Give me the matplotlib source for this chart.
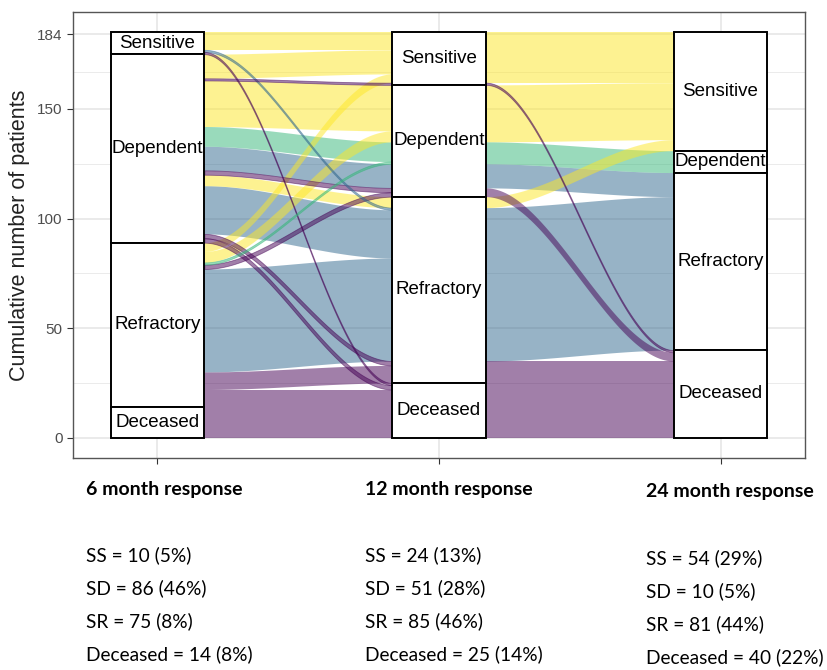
import numpy as np
import matplotlib.pyplot as plt
from matplotlib.patches import Rectangle

codes = ["S", "D", "R", "X"]
names = {"S": "Sensitive", "D": "Dependent", "R": "Refractory", "X": "Deceased"}
fills = {"S": "#FDE725", "D": "#35B779", "R": "#31688E", "X": "#440154"}

# one entry per patient path (6 -> 12 -> 24 months), with patient counts
resp_6m = ["S", "S", "S", "D", "D", "D", "D", "D", "D", "D", "D", "D", "D",
           "R", "R", "R", "R", "R", "R", "R", "X"]
resp_12m = ["S", "R", "X", "S", "S", "D", "D", "D", "D", "R", "R", "R", "X",
            "S", "D", "D", "D", "R", "R", "X", "X"]
resp_24m = ["S", "R", "X", "S", "X", "S", "D", "R", "X", "S", "R", "X", "X",
            "S", "S", "D", "X", "R", "X", "X", "X"]
patients = [8, 1, 1, 11, 1, 21, 9, 11, 2, 5, 22, 2, 2,
            4, 5, 1, 2, 47, 8, 8, 14]

y_ticks = [0, 50, 100, 150, 184]
headers = ["6 month response", "12 month response", "24 month response"]
summary = [
    ["SS = 10 (5%)", "SD = 86 (46%)", "SR = 75 (8%)", "Deceased = 14 (8%)"],
    ["SS = 24 (13%)", "SD = 51 (28%)", "SR = 85 (46%)", "Deceased = 25 (14%)"],
    ["SS = 54 (29%)", "SD = 10 (5%)", "SR = 81 (44%)", "Deceased = 40 (22%)"],
]

W, H = 827, 670
fig = plt.figure(figsize=(W / 100, H / 100), dpi=100)
ax = fig.add_axes([73 / W, 1 - 458 / H, (805 - 73) / W, (458 - 12) / H])

rank = {c: i for i, c in enumerate(codes)}
cols = [resp_6m, resp_12m, resp_24m]
total = sum(patients)
width = 1 / 3

# stratum extents, first level on top
strata = []
for col in cols:
    counts = {c: 0 for c in codes}
    for c, n in zip(col, patients):
        counts[c] += n
    top = total
    ext = {}
    for c in codes:
        ext[c] = (top - counts[c], top)
        top -= counts[c]
    strata.append(ext)


def smooth(t):
    return t * t * (3 - 2 * t)


for k in range(2):
    agg = {}
    for a, b, f, n in zip(cols[k], cols[k + 1], resp_24m, patients):
        agg[(a, b, f)] = agg.get((a, b, f), 0) + n

    left = {}
    cur = {c: strata[k][c][1] for c in codes}
    for key in sorted(agg, key=lambda t: (rank[t[0]], rank[t[1]], rank[t[2]])):
        n = agg[key]
        left[key] = (cur[key[0]] - n, cur[key[0]])
        cur[key[0]] -= n

    right = {}
    cur = {c: strata[k + 1][c][1] for c in codes}
    for key in sorted(agg, key=lambda t: (rank[t[1]], rank[t[2]], rank[t[0]])):
        n = agg[key]
        right[key] = (cur[key[1]] - n, cur[key[1]])
        cur[key[1]] -= n

    x0 = k + 1 + width / 2
    x1 = k + 2 - width / 2
    xs = np.linspace(x0, x1, 120)
    s = smooth((xs - x0) / (x1 - x0))
    for key in sorted(agg, key=lambda t: -agg[t]):
        a0, a1 = left[key]
        b0, b1 = right[key]
        lo = a0 + (b0 - a0) * s
        hi = a1 + (b1 - a1) * s
        thin = agg[key] <= 2
        ax.fill_between(xs, lo, hi, color=fills[key[2]], alpha=0.5,
                        linewidth=0.6 if thin else 0, edgecolor=fills[key[2]],
                        zorder=2)

for k, ext in enumerate(strata):
    for c in codes:
        y0, y1 = ext[c]
        if y1 - y0 <= 0:
            continue
        ax.add_patch(Rectangle((k + 1 - width / 2, y0), width, y1 - y0,
                               facecolor="white", edgecolor="black",
                               linewidth=1.4, zorder=3))
        ax.text(k + 1, (y0 + y1) / 2, names[c], ha="center", va="center",
                fontsize=13.5, family="Liberation Sans", color="black", zorder=4)

ax.set_xlim(0.7, 3.3)
ax.set_ylim(-9.25, 194.25)
ax.set_xticks([1, 2, 3])
ax.set_xticklabels([])
ax.set_yticks(y_ticks)
ax.set_yticklabels([str(v) for v in y_ticks], family="Liberation Sans",
                   fontsize=11, color="#4D4D4D")
ax.set_yticks([25, 75, 125, 167], minor=True)
ax.tick_params(axis="both", which="major", length=4, width=0.8, color="#333333")
ax.tick_params(axis="y", which="minor", length=0)
ax.grid(True, which="major", color="#E6E6E6", linewidth=1.2, zorder=0)
ax.grid(True, which="minor", axis="y", color="#EBEBEB", linewidth=0.7, zorder=0)
ax.set_axisbelow(True)
for sp in ax.spines.values():
    sp.set_color("#555555")
    sp.set_linewidth(1.0)
ax.set_ylabel("Cumulative number of patients", family="Liberation Sans",
              fontsize=15.5, color="#222222", labelpad=5)

col_x = [86, 365, 646]
head_y = [490, 490, 492]
line_y = [[555, 588, 621, 654], [555, 588, 621, 654], [558, 591, 624, 657]]
for i in range(3):
    fig.text(col_x[i] / W, 1 - head_y[i] / H, headers[i], family="Lato",
             fontweight="bold", fontsize=14, ha="left", va="center")
    for txt, yy in zip(summary[i], line_y[i]):
        fig.text(col_x[i] / W, 1 - yy / H, txt, family="Lato",
                 fontsize=13.8, ha="left", va="center")

fig.savefig("out.png", dpi=100)
